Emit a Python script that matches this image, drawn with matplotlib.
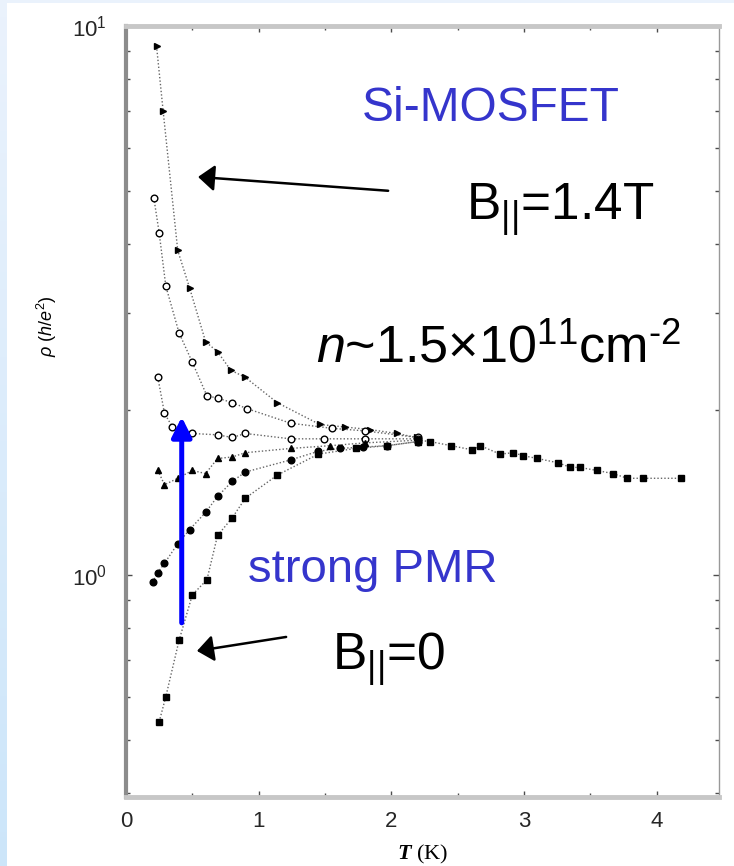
import numpy as np
import matplotlib
matplotlib.use("Agg")
import matplotlib.pyplot as plt
from matplotlib.ticker import FixedLocator, NullFormatter

plt.rcParams['font.family'] = ['Liberation Sans', 'DejaVu Sans']
plt.rcParams['mathtext.fontset'] = 'custom'
plt.rcParams['mathtext.rm'] = 'Liberation Sans'
plt.rcParams['mathtext.it'] = 'Liberation Sans:italic'
plt.rcParams['mathtext.bf'] = 'Liberation Serif:italic:bold'

# curves, top (B||=1.4T) to bottom (B||=0)
t_a = [0.23, 0.28, 0.39, 0.48, 0.60, 0.69, 0.79, 0.90, 1.14, 1.46, 1.65, 1.84, 2.04, 2.19]
rho_a = [9.2, 7.0, 3.9, 3.33, 2.66, 2.55, 2.36, 2.29, 2.06, 1.88, 1.86, 1.84, 1.81, 1.78]

t_b = [0.21, 0.25, 0.30, 0.40, 0.50, 0.61, 0.69, 0.80, 0.91, 1.24, 1.55, 1.80, 2.20]
rho_b = [4.86, 4.2, 3.36, 2.76, 2.44, 2.12, 2.10, 2.06, 2.01, 1.89, 1.85, 1.83, 1.78]

t_c = [0.24, 0.29, 0.35, 0.50, 0.69, 0.80, 0.90, 1.24, 1.49, 1.80, 2.20]
rho_c = [2.29, 1.97, 1.86, 1.81, 1.80, 1.78, 1.81, 1.77, 1.77, 1.77, 1.77]

t_e = [0.24, 0.29, 0.39, 0.50, 0.60, 0.69, 0.80, 0.90, 1.24, 1.54, 1.80, 2.20]
rho_e = [1.55, 1.46, 1.50, 1.55, 1.53, 1.63, 1.64, 1.67, 1.70, 1.72, 1.74, 1.76]

t_f = [0.20, 0.24, 0.29, 0.39, 0.48, 0.60, 0.69, 0.80, 0.90, 1.24, 1.45, 1.61, 1.79, 1.97, 2.20]
rho_f = [0.97, 1.01, 1.05, 1.14, 1.21, 1.30, 1.39, 1.48, 1.54, 1.62, 1.68, 1.70, 1.71, 1.72, 1.75]

t_g = [0.25, 0.30, 0.40, 0.50, 0.61, 0.69, 0.80, 0.90, 1.14, 1.45, 1.73, 1.97, 2.20]
rho_g = [0.54, 0.60, 0.76, 0.92, 0.98, 1.18, 1.27, 1.38, 1.52, 1.66, 1.70, 1.72, 1.75]

# common high-T part
t_tail = [2.20, 2.29, 2.45, 2.61, 2.67, 2.82, 2.92, 2.99, 3.10, 3.26, 3.35, 3.42, 3.55, 3.67, 3.78, 3.90, 4.18]
rho_tail = [1.76, 1.75, 1.72, 1.69, 1.72, 1.66, 1.67, 1.65, 1.63, 1.60, 1.57, 1.57, 1.55, 1.53, 1.50, 1.50, 1.50]

curves = [
    (t_a, rho_a, '>', 'k'),
    (t_b, rho_b, 'o', 'w'),
    (t_c, rho_c, 'o', 'w'),
    (t_e, rho_e, '^', 'k'),
    (t_f, rho_f, 'o', 'k'),
    (t_g, rho_g, 's', 'k'),
    (t_tail, rho_tail, 's', 'k'),
]

W, H = 734, 866
fig = plt.figure(figsize=(W / 100, H / 100), dpi=100)

# light blue page edge
bg = fig.add_axes([0, 0, 1, 1], zorder=-10)
img = np.ones((H, W, 3))
col = np.linspace(0, 1, H)[:, None]
top_c = np.array([0.92, 0.95, 0.99])
bot_c = np.array([0.80, 0.90, 0.98])
img[:, :7, :] = (top_c * (1 - col) + bot_c * col)[:, None, :]
img[:3, :, :] = top_c
bg.imshow(img, aspect='auto', extent=[0, 1, 0, 1])
bg.axis('off')

ax = fig.add_axes([126 / W, 1 - 797 / H, (719 - 126) / W, (797 - 26) / H])
ax.set_yscale('log')

for t, r, m, fc in curves:
    ax.plot(t, r, color='0.4', linestyle=(0, (1, 1.5)), lw=1.0, zorder=2)
    ax.plot(t, r, linestyle='none', marker=m, ms=4.8, mfc=fc, mec='k', mew=1.0, zorder=3)

ax.set_xlim(0, 4.47)
ax.set_ylim(0.394, 10)

ax.xaxis.set_major_locator(FixedLocator([0, 1, 2, 3, 4]))
ax.xaxis.set_minor_locator(FixedLocator([0.5, 1.5, 2.5, 3.5]))
ax.set_xticklabels(['0', '1', '2', '3', '4'], fontsize=16, color='0.15')
ax.yaxis.set_major_locator(FixedLocator([1, 10]))
ax.yaxis.set_minor_locator(FixedLocator([0.4, 0.5, 0.6, 0.7, 0.8, 0.9, 2, 3, 4, 5, 6, 7, 8, 9]))
ax.yaxis.set_minor_formatter(NullFormatter())
ax.set_yticklabels([r'$10^{0}$', r'$10^{1}$'], fontsize=16, color='0.15')
ax.tick_params(which='both', direction='in', top=True, right=True, color='0.3')
ax.tick_params(which='major', length=4, width=1)
ax.tick_params(which='minor', length=3, width=1)
ax.tick_params(axis='x', pad=10)
ax.tick_params(axis='y', pad=14)

ax.spines['left'].set_color('0.55')
ax.spines['left'].set_linewidth(3)
ax.spines['bottom'].set_color('0.78')
ax.spines['bottom'].set_linewidth(3.5)
ax.spines['top'].set_color('0.78')
ax.spines['top'].set_linewidth(3.5)
ax.spines['right'].set_color('0.6')
ax.spines['right'].set_linewidth(1)

ax.set_xlabel(r'$\mathbf{T}$ (K)', family='Liberation Serif', fontsize=16, labelpad=8)
ax.set_ylabel(r'$\rho$ $(h/e^2)$', family='Liberation Serif', fontsize=13)
ax.yaxis.set_label_coords(-0.113, 0.61)

# arrows
ax.annotate('', xy=(0.42, 1.94), xytext=(0.42, 0.818),
            arrowprops=dict(arrowstyle='-|>,head_length=0.6,head_width=0.3',
                            lw=3.6, color='#0000ff', mutation_scale=20, shrinkA=0, shrinkB=0))
ax.annotate('', xy=(0.543, 5.31), xytext=(1.976, 5.01),
            arrowprops=dict(arrowstyle='-|>,head_length=0.5,head_width=0.4',
                            lw=1.8, color='k', mutation_scale=20, shrinkA=0, shrinkB=0))
ax.annotate('', xy=(0.535, 0.727), xytext=(1.207, 0.771),
            arrowprops=dict(arrowstyle='-|>,head_length=0.5,head_width=0.4',
                            lw=1.8, color='k', mutation_scale=20, shrinkA=0, shrinkB=0))

blue = '#3535cc'
fig.text(362 / W, 1 - 121 / H, 'Si-MOSFET', color=blue, fontsize=34.5, va='baseline')
fig.text(466 / W, 1 - 220 / H, r'B$_{||}$=1.4T', color='k', fontsize=37, va='baseline')
fig.text(316 / W, 1 - 362 / H, r'$n$~1.5×10$^{11}$cm$^{\text{-}2}$', color='k', fontsize=37.5, va='baseline')
fig.text(248 / W, 1 - 582 / H, 'strong PMR', color=blue, fontsize=34, va='baseline')
fig.text(332 / W, 1 - 670 / H, r'B$_{||}$=0', color='k', fontsize=37, va='baseline')

fig.savefig('out.png', dpi=100)
